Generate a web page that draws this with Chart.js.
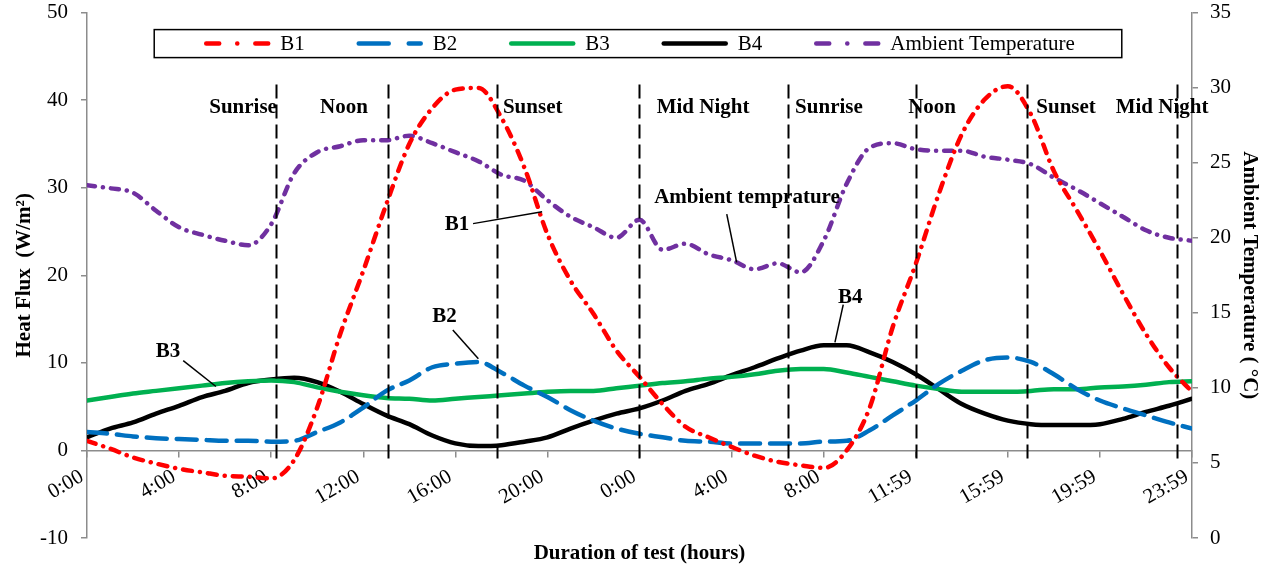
<!DOCTYPE html>
<html>
<head>
<meta charset="utf-8">
<script src="https://cdn.jsdelivr.net/npm/chart.js@4.4.1/dist/chart.umd.min.js"></script>
<style>
  html, body { margin: 0; padding: 0; background: #fff; }
  #wrap { width: 1262px; height: 569px; }
</style>
</head>
<body>
<div id="wrap"><canvas id="chart"></canvas></div>
<script>
// hours since start of test (two days)
const hours = [0, 1, 2, 3, 4, 5, 6, 7, 8, 9, 10, 11, 12, 13, 14, 15, 16, 17, 18, 19, 20, 21, 22, 23, 24,
  25, 26, 27, 28, 29, 30, 31, 32, 33, 34, 35, 36, 37, 38, 39, 40, 41, 42, 43, 44, 45, 46, 47, 48];

const tickLabels = ['0:00', '4:00', '8:00', '12:00', '16:00', '20:00', '0:00', '4:00', '8:00', '11:59', '15:59', '19:59', '23:59'];

// heat flux (W/m2)
const b1 = [1.1, 0.2, -0.8, -1.5, -2.1, -2.5, -2.9, -3.0, -3.2, -1.1, 4.9, 13.3, 20.5, 28.1, 35.0, 39.1, 41.2, 41.4, 38.0, 32.3, 24.7, 19.4, 15.6, 11.4, 8.4,
  5.3, 2.7, 1.5, 0.4, -0.6, -1.3, -1.7, -2.0, 0.0, 4.9, 14.1, 21.3, 29.3, 36.1, 40.1, 41.6, 38.4, 31.9, 27.4, 22.8, 17.9, 13.3, 9.5, 6.7];
const b2 = [2.1, 1.9, 1.6, 1.4, 1.3, 1.2, 1.1, 1.1, 1.0, 1.1, 2.1, 3.2, 4.9, 6.8, 8.0, 9.5, 9.9, 10.1, 8.9, 7.4, 6.1, 4.6, 3.4, 2.5, 1.9,
  1.5, 1.1, 1.0, 0.8, 0.8, 0.8, 0.8, 1.0, 1.1, 2.3, 4.0, 5.7, 7.6, 9.1, 10.3, 10.6, 10.1, 8.7, 7.0, 5.7, 4.8, 4.0, 3.2, 2.5];
const b3 = [5.7, 6.1, 6.5, 6.8, 7.1, 7.4, 7.7, 7.9, 8.0, 7.8, 7.2, 6.7, 6.3, 6.0, 5.9, 5.7, 5.9, 6.1, 6.3, 6.5, 6.7, 6.8, 6.8, 7.1, 7.4,
  7.7, 7.9, 8.2, 8.4, 8.7, 9.1, 9.3, 9.3, 8.9, 8.4, 7.9, 7.4, 7.0, 6.7, 6.7, 6.7, 6.8, 7.0, 7.0, 7.2, 7.3, 7.5, 7.8, 7.9];
const b4 = [1.5, 2.5, 3.2, 4.2, 5.1, 6.1, 6.8, 7.7, 8.1, 8.3, 7.8, 6.7, 5.3, 4.0, 3.0, 1.7, 0.8, 0.5, 0.6, 1.0, 1.5, 2.5, 3.4, 4.2, 4.8,
  5.7, 6.8, 7.6, 8.6, 9.5, 10.5, 11.4, 12.0, 12.0, 11.2, 10.1, 8.7, 7.0, 5.3, 4.2, 3.4, 3.0, 2.9, 2.9, 3.0, 3.6, 4.4, 5.1, 5.9];
// ambient temperature (°C)
const ambient = [23.5, 23.3, 23.0, 21.8, 20.7, 20.2, 19.8, 19.5, 20.9, 24.3, 25.7, 26.1, 26.5, 26.5, 26.8, 26.3, 25.7, 25.1, 24.2, 23.8, 22.5, 21.4, 20.7, 20.0, 21.2,
  19.2, 19.6, 18.9, 18.5, 17.9, 18.3, 17.7, 19.8, 23.6, 26.0, 26.3, 25.9, 25.8, 25.8, 25.4, 25.2, 24.9, 24.0, 23.2, 22.3, 21.4, 20.5, 20.0, 19.8];

// day events: dashed line time, label and label time
const eventNames = ['Sunrise', 'Noon', 'Sunset', 'Mid Night', 'Sunrise', 'Noon', 'Sunset', 'Mid Night'];
const eventTimes = [8.2, 13.08, 17.8, 23.98, 30.47, 36.0, 40.83, 47.35];
const eventLabelTimes = [6.78, 11.16, 19.36, 26.76, 32.23, 36.71, 42.53, 46.7];

// callouts: text at [h, flux], leader line from -> to
const callouts = [
  { text: 'B1', at: [16.07, 25.77], from: [16.77, 25.9], to: [19.77, 27.25] },
  { text: 'B2', at: [15.53, 15.28], from: [15.89, 13.76], to: [17.0, 10.46] },
  { text: 'B3', at: [3.52, 11.29], from: [4.18, 10.26], to: [5.6, 7.3] },
  { text: 'B4', at: [33.15, 17.45], from: [32.85, 16.65], to: [32.49, 12.35] },
  { text: 'Ambient temprature', at: [28.67, 28.85], from: [27.79, 26.99], to: [28.22, 21.47] }
];

const serif = '"Liberation Serif", "Times New Roman", serif';
const axisGray = '#8c8c8c';
Chart.defaults.font.family = serif;
Chart.defaults.font.size = 21;
Chart.defaults.color = '#000';

function series(vals) {
  return hours.map((h, i) => ({ x: h, y: vals[i] }));
}

function line(label, vals, color, dash, legendDash, axis) {
  return {
    label: label,
    data: series(vals),
    yAxisID: axis,
    borderColor: color,
    backgroundColor: color,
    borderWidth: 4.5,
    borderDash: dash,
    legendDash: legendDash,
    borderCapStyle: 'round',
    pointRadius: 0,
    cubicInterpolationMode: 'monotone',
    fill: false
  };
}

// keep the y axes' top/bottom padding to half a label, not label + tick padding
function fixPad(width) {
  return s => {
    s.width = width;
    s.paddingTop = 12.6;
    s.paddingBottom = 12.6;
  };
}

// legend drawn inside the plot, in a framed box
const boxLegend = {
  id: 'boxLegend',
  afterDraw(chart) {
    const ctx = chart.ctx;
    const area = chart.chartArea;
    const sample = 66, gap = 10, spacing = 52;
    ctx.save();
    ctx.font = '21px ' + serif;
    const items = chart.data.datasets.map(ds => ({ ds: ds, w: sample + gap + ctx.measureText(ds.label).width }));
    const total = items.reduce((s, it) => s + it.w, 0) + spacing * (items.length - 1);
    let x = (area.left + area.right) / 2 - total / 2;
    const top = area.top + 17, h = 28, mid = top + h / 2;
    ctx.fillStyle = '#fff';
    ctx.fillRect(x - 50, top, total + 97, h);
    ctx.strokeStyle = '#000';
    ctx.lineWidth = 1.5;
    ctx.strokeRect(x - 50, top, total + 97, h);
    items.forEach(it => {
      ctx.beginPath();
      ctx.setLineDash(it.ds.legendDash || []);
      ctx.lineCap = 'round';
      ctx.lineWidth = it.ds.borderWidth;
      ctx.strokeStyle = it.ds.borderColor;
      ctx.moveTo(x + 2, mid);
      ctx.lineTo(x + sample - 2, mid);
      ctx.stroke();
      ctx.setLineDash([]);
      ctx.fillStyle = '#000';
      ctx.textBaseline = 'middle';
      ctx.textAlign = 'left';
      ctx.fillText(it.ds.label, x + sample + gap, mid + 1);
      x += it.w + spacing;
    });
    ctx.restore();
  }
};

// dashed event lines, event names and callouts
const annotations = {
  id: 'annotations',
  afterDatasetsDraw(chart) {
    const ctx = chart.ctx;
    const xs = chart.scales.x, ys = chart.scales.y;
    ctx.save();
    ctx.strokeStyle = '#000';
    ctx.lineWidth = 2;
    ctx.setLineDash([14, 6]);
    eventTimes.forEach(t => {
      const px = Math.round(xs.getPixelForValue(t)) + 0.5;
      ctx.beginPath();
      ctx.moveTo(px, ys.getPixelForValue(41.8));
      ctx.lineTo(px, ys.getPixelForValue(-1.5));
      ctx.stroke();
    });
    ctx.setLineDash([]);
    ctx.font = 'bold 21px ' + serif;
    ctx.fillStyle = '#000';
    ctx.textAlign = 'center';
    ctx.textBaseline = 'middle';
    eventNames.forEach((name, i) => {
      ctx.fillText(name, xs.getPixelForValue(eventLabelTimes[i]), ys.getPixelForValue(39.2));
    });
    ctx.lineWidth = 1.5;
    callouts.forEach(c => {
      ctx.beginPath();
      ctx.moveTo(xs.getPixelForValue(c.from[0]), ys.getPixelForValue(c.from[1]));
      ctx.lineTo(xs.getPixelForValue(c.to[0]), ys.getPixelForValue(c.to[1]));
      ctx.stroke();
      ctx.fillText(c.text, xs.getPixelForValue(c.at[0]), ys.getPixelForValue(c.at[1]));
    });
    ctx.restore();
  }
};

new Chart(document.getElementById('chart'), {
  type: 'line',
  data: {
    datasets: [
      line('B1', b1, '#ff0000', [9, 8, 0.1, 8], [13, 18, 0.1, 18], 'y'),
      line('B2', b2, '#0070c0', [20, 10], [30, 20], 'y'),
      line('B3', b3, '#00b050', [], [], 'y'),
      line('B4', b4, '#000000', [], [], 'y'),
      line('Ambient Temperature', ambient, '#7030a0', [8, 8, 0.1, 8], [13, 18, 0.1, 18], 'y2')
    ]
  },
  options: {
    responsive: true,
    maintainAspectRatio: false,
    animation: false,
    devicePixelRatio: 1,
    layout: { padding: 0 },
    plugins: {
      legend: { display: false },
      tooltip: { enabled: false }
    },
    scales: {
      x: {
        type: 'linear',
        min: 0,
        max: 48,
        position: { y: 0 },
        afterFit: s => { s.height = 0; },
        grid: { drawOnChartArea: false, drawTicks: true, tickLength: 6, color: axisGray, lineWidth: 1.5 },
        border: { display: true, color: axisGray, width: 1.5 },
        ticks: {
          stepSize: 4,
          autoSkip: false,
          minRotation: 30,
          maxRotation: 30,
          padding: 8,
          labelOffset: -5,
          callback: (v, i) => tickLabels[i]
        }
      },
      xt: {
        type: 'linear',
        position: 'bottom',
        afterFit: s => { s.height = 31; },
        grid: { display: false },
        border: { display: false },
        ticks: { display: false },
        title: { display: true, text: 'Duration of test (hours)', font: { weight: 'bold', size: 21 }, padding: { top: 0, bottom: 3 } }
      },
      y: {
        min: -10,
        max: 50,
        position: 'left',
        afterFit: fixPad(87),
        grid: { drawOnChartArea: false, drawTicks: true, tickLength: 6, color: axisGray, lineWidth: 1.5 },
        border: { display: true, color: axisGray, width: 1.5 },
        ticks: { stepSize: 10, padding: 13 },
        title: { display: true, text: 'Heat Flux  (W/m²)', font: { weight: 'bold', size: 21 }, padding: { top: 12, bottom: 0 } }
      },
      y2: {
        min: 0,
        max: 35,
        position: 'right',
        afterFit: fixPad(70),
        grid: { drawOnChartArea: false, drawTicks: true, tickLength: 6, color: axisGray, lineWidth: 1.5 },
        border: { display: true, color: axisGray, width: 1.5 },
        ticks: { stepSize: 5, padding: 12 },
        title: { display: true, text: 'Ambient Temperature ( °C)', font: { weight: 'bold', size: 21 }, padding: { top: 0, bottom: 0 } }
      }
    }
  },
  plugins: [annotations, boxLegend]
});
</script>
</body>
</html>
